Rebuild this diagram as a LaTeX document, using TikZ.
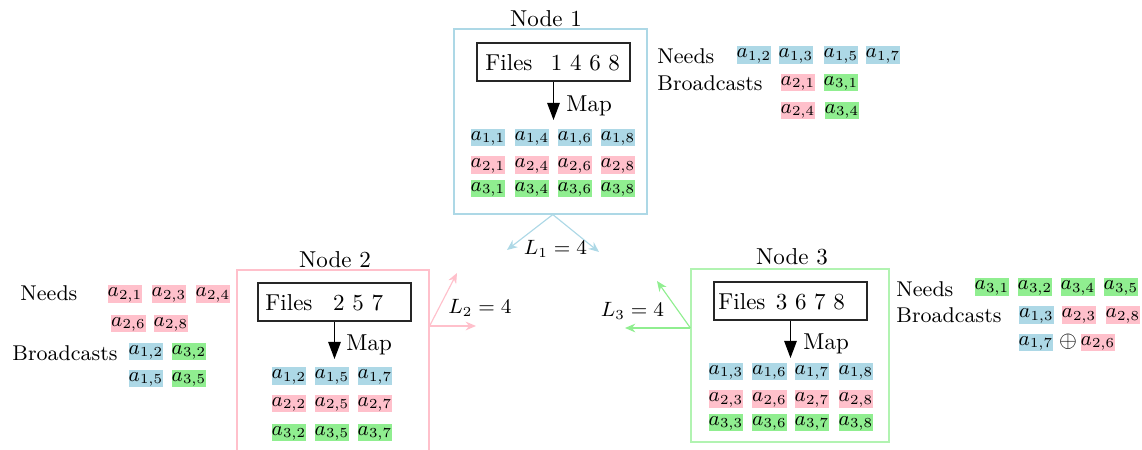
\documentclass[tikz,border=0pt]{standalone}
\usetikzlibrary{arrows.meta,fit}
\definecolor{cblue}{RGB}{173,216,230}
\definecolor{cpink}{RGB}{255,192,203}
\definecolor{cgreen}{RGB}{144,238,144}
\begin{document}
\begin{tikzpicture}[x=0.4348pt, y=-0.4348pt,
  chip/.style={inner xsep=0pt, inner ysep=0.3pt, text height=4.6pt, text depth=2.2pt, font=\fontsize{9.2}{11}\selectfont},
  bc/.style={chip, fill=cblue}, pc/.style={chip, fill=cpink}, gc/.style={chip, fill=cgreen},
  lbl/.style={inner sep=0pt, anchor=base west},
  side/.style={lbl, font=\fontsize{9.3}{11}\selectfont},
  ttl/.style={inner sep=0pt, anchor=base},
  filebox/.style={draw=black!85, inner sep=0pt, line width=0.5pt},
  nodebox/.style={inner sep=0pt, line width=0.5pt},
  maparrow/.style={-{Triangle[length=7.5pt,width=5.5pt]}, line width=0.5pt},
  link/.style={-{Stealth[length=4.5pt,width=3.8pt]}, line width=0.5pt},
  llabel/.style={inner sep=0pt, font=\small}]
\clip (0,0) rectangle (1142,450);

% ---------------- Node 1 ----------------
\node[nodebox, draw=cblue, fit={(454,29) (647,214)}] (box1) {};
\node[ttl] (t1) at (546,26) {Node 1};
\node[filebox, fit={(477,43) (630,81)}] (files1) {};
\node[lbl] (files1t) at (485,70) {Files\hspace{8pt}1 4 6 8};
\coordinate (m1) at (files1.south |- 0,120);
\draw[maparrow] (files1.south) -- (m1);
\node[lbl] (map1) at (566,111) {Map};
\foreach \c/\x in {1/488,4/532,6/575,8/618}{
  \node[bc] (n1a\c) at (\x,137.5) {$a_{1,\c}$};
  \node[pc] (n1b\c) at (\x,165) {$a_{2,\c}$};
  \node[gc] (n1c\c) at (\x,188.5) {$a_{3,\c}$};
}
% side panel 1
\node[side] (need1) at (657,63) {Needs};
\node[bc] (s1a) at (754,55) {$a_{1,2}$};
\node[bc] (s1b) at (796,55) {$a_{1,3}$};
\node[bc] (s1c) at (841,55) {$a_{1,5}$};
\node[bc] (s1d) at (883,55) {$a_{1,7}$};
\node[side] (bc1) at (657,90) {Broadcasts};
\node[pc] (s1e) at (798,82.5) {$a_{2,1}$};
\node[gc] (s1f) at (841,82.5) {$a_{3,1}$};
\node[pc] (s1g) at (798,110.5) {$a_{2,4}$};
\node[gc] (s1h) at (842,110.5) {$a_{3,4}$};
% links 1
\coordinate (e1a) at (507,250);
\coordinate (e1b) at (599,252);
\draw[link, cblue] ([xshift=1pt]box1.south) -- (e1a);
\draw[link, cblue] ([xshift=1pt]box1.south) -- (e1b);
\node[llabel] (L1) at (555.5,249) {$L_1=4$};

% ---------------- Node 2 ----------------
\node[nodebox, draw=cpink, fit={(237,270) (429,480)}] (box2) {};
\node[ttl] (t2) at (335,267) {Node 2};
\node[filebox, fit={(258,283) (411,321)}] (files2) {};
\node[lbl] (files2t) at (265,310) {Files\hspace{9pt}2 5 7};
\coordinate (m2) at (files2.south |- 0,359);
\draw[maparrow] (files2.south) -- (m2);
\node[lbl] (map2) at (346,350) {Map};
\foreach \c/\x in {2/289,5/332,7/375}{
  \node[bc] (n2a\c) at (\x,376) {$a_{1,\c}$};
  \node[pc] (n2b\c) at (\x,403.5) {$a_{2,\c}$};
  \node[gc] (n2c\c) at (\x,432.5) {$a_{3,\c}$};
}
% side panel 2
\node[side] (need2) at (20,300) {Needs};
\node[pc] (s2a) at (125,294) {$a_{2,1}$};
\node[pc] (s2b) at (169,294) {$a_{2,3}$};
\node[pc] (s2c) at (213,294) {$a_{2,4}$};
\node[pc] (s2d) at (128.5,323.5) {$a_{2,6}$};
\node[pc] (s2e) at (171,323.5) {$a_{2,8}$};
\node[side] (bc2) at (12,360.5) {Broadcasts};
\node[bc] (s2f) at (146,351.5) {$a_{1,2}$};
\node[gc] (s2g) at (189,351.5) {$a_{3,2}$};
\node[bc] (s2h) at (146,378.5) {$a_{1,5}$};
\node[gc] (s2i) at (189,378.5) {$a_{3,5}$};
% links 2
\coordinate (o2) at (box2.east |- 0,326);
\coordinate (e2a) at (457,273);
\coordinate (e2b) at (476,326);
\draw[link, cpink] (o2) -- (e2a);
\draw[link, cpink] (o2) -- (e2b);
\node[llabel] (L2) at (480,308) {$L_2=4$};

% ---------------- Node 3 ----------------
\node[nodebox, draw=cgreen!70, fit={(691,269) (889,442)}] (box3) {};
\node[ttl] (t3) at (792,264) {Node 3};
\node[filebox, fit={(714,282) (867,320)}] (files3) {};
\node[lbl] (files3t) at (718,309) {Files\hspace{4.5pt}3 6 7 8};
\coordinate (m3) at (files3.south |- 0,358);
\draw[maparrow] (files3.south) -- (m3);
\node[lbl] (map3) at (803,349) {Map};
\foreach \c/\x in {3/726,6/769.5,7/812,8/856}{
  \node[bc] (n3a\c) at (\x,371.5) {$a_{1,\c}$};
  \node[pc] (n3b\c) at (\x,399) {$a_{2,\c}$};
  \node[gc] (n3c\c) at (\x,422.5) {$a_{3,\c}$};
}
% side panel 3
\node[side] (need3) at (896,296) {Needs};
\node[gc] (s3a) at (992,287) {$a_{3,1}$};
\node[gc] (s3b) at (1035,287) {$a_{3,2}$};
\node[gc] (s3c) at (1078,287) {$a_{3,4}$};
\node[gc] (s3d) at (1121,287) {$a_{3,5}$};
\node[side] (bc3) at (896,322) {Broadcasts};
\node[bc] (s3e) at (1036.5,315) {$a_{1,3}$};
\node[pc] (s3f) at (1079,315) {$a_{2,3}$};
\node[pc] (s3g) at (1123,315) {$a_{2,8}$};
\node[bc] (s3h) at (1036,342.5) {$a_{1,7}$};
\node[inner sep=0pt] (op3) at (1068,342) {$\oplus$};
\node[pc] (s3i) at (1098,342.5) {$a_{2,6}$};
% links 3
\coordinate (o3) at (box3.west |- 0,328);
\coordinate (e3a) at (657,281);
\coordinate (e3b) at (625,328);
\draw[link, cgreen] (o3) -- (e3a);
\draw[link, cgreen] (o3) -- (e3b);
\node[llabel] (L3) at (632.5,311) {$L_3=4$};
\end{tikzpicture}
\end{document}
